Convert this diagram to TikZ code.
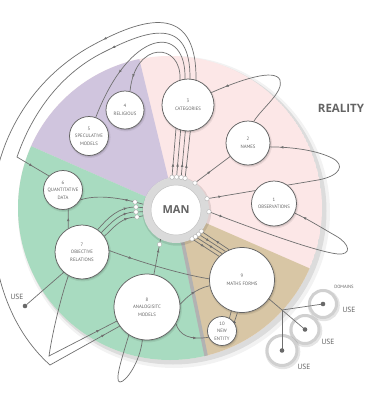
\documentclass[tikz,border=0pt]{standalone}
\usepackage{fontspec}
\usetikzlibrary{arrows.meta,decorations.markings,calc}
\newfontfamily\lblfont{PT Sans}
\newfontfamily\bigfont{Open Sans}
\definecolor{pinkc}{RGB}{252,231,231}
\definecolor{purplec}{RGB}{208,197,222}
\definecolor{greenc}{RGB}{168,219,192}
\definecolor{tanc}{RGB}{216,198,165}
\definecolor{stripc}{RGB}{178,178,178}
\definecolor{linec}{RGB}{112,112,112}
\definecolor{nodeb}{RGB}{100,100,100}
\definecolor{textc}{RGB}{100,100,100}
\definecolor{ringc}{RGB}{218,218,218}
\definecolor{domc}{RGB}{208,208,208}
\definecolor{dotc}{RGB}{105,105,105}
\pgfdeclarelayer{bg}
\pgfdeclarelayer{edges}
\pgfsetlayers{bg,edges,main}
\tikzset{
  con/.style={draw=linec, color=linec, line width=0.7pt},
  amark/.style={postaction={decorate,decoration={markings,mark=at position #1 with {\arrow{Latex[length=3.4pt,width=2.8pt]}}}}},
  rmark/.style={postaction={decorate,decoration={markings,mark=at position #1 with {\arrowreversed{Latex[length=3.4pt,width=2.8pt]}}}}},
  idea/.style={circle, draw=nodeb, fill=white, line width=0.75pt, inner sep=0pt, align=center, text=textc,
    font=\lblfont\fontsize{4.8}{7.6}\selectfont,
    preaction={fill=black, draw=black, fill opacity=0.10, draw opacity=0.07, line width=2.5pt,
      transform canvas={shift={(0.8pt,-1.2pt)}}}},
  mannode/.style={circle, minimum size=58pt, inner sep=0pt, fill=white, draw=ringc, line width=8pt, text=textc,
    font=\bigfont\bfseries\fontsize{11}{13}\selectfont,
    preaction={draw=black, draw opacity=0.10, line width=11pt, transform canvas={shift={(0.8pt,-1.2pt)}}}},
  domnode/.style={circle, inner sep=0pt, fill=white, draw=domc, line width=3pt,
    preaction={draw=black, draw opacity=0.10, line width=5pt, transform canvas={shift={(0.8pt,-1.2pt)}}}},
  port/.style={circle, draw=gray!60, fill=white, line width=0.4pt, inner sep=0pt, minimum size=4.4pt},
  dotn/.style={circle, fill=dotc, inner sep=0pt, minimum size=4.6pt},
  uselbl/.style={font=\lblfont\fontsize{7.5}{9}\selectfont, text=textc, inner sep=0pt},
  domlbl/.style={font=\lblfont\fontsize{4.6}{6}\selectfont, text=textc, inner sep=0pt}
}
\begin{document}
\begin{tikzpicture}[x=1pt,y=-1pt]
\useasboundingbox (0,0) rectangle (367,400);
\begin{pgfonlayer}{bg}
  \fill[white] (0,0) rectangle (367,400);
  \fill[black, opacity=0.05] (174,212) circle[radius=156];
  \fill[black, opacity=0.09] (173,211) circle[radius=153.5];
  \begin{scope}
    \clip (170,208) circle[radius=152];
    \fill[pinkc] (170,208) circle[radius=152];
    \fill[purplec] (176,210) -- (104,-86) -- (-110,84) -- cycle;
    \fill[greenc] (176,210) -- (-110,84) -- (-110,510) -- (238,510) -- cycle;
    \fill[tanc] (176,210) -- (238,510) -- (460,510) -- (460,334) -- cycle;
    \draw[stripc, line width=3.5pt] (176,210) -- (238,510);
  \end{scope}
\end{pgfonlayer}

% main nodes
\node[mannode] (man) at (176,210) {MAN};
\draw[gray!45, line width=0.5pt] (man.center) circle[radius=25];
\node[idea, minimum size=45pt] (obs) at (274,203.5) {1\\OBSERVATIONS};
\node[idea, minimum size=44pt] (names) at (248,143) {2\\NAMES};
\node[idea, minimum size=52pt] (cat) at (188,105) {3\\CATEGORIES};
\node[idea, minimum size=38pt] (rel) at (125,110) {4\\RELIGIOUS};
\node[idea, minimum size=39pt] (spec) at (89,136) {5\\SPECULATIVE\\MODELS};
\node[idea, minimum size=39pt] (qd) at (63,190) {6\\QUANTITATIVE\\DATA};
\node[idea, minimum size=54pt] (objrel) at (82,252) {7\\OBJECTIVE\\RELATIONS};
\node[idea, minimum size=66pt] (anal) at (147,307) {8\\ANALOGISITC\\MODELS};
\node[idea, minimum size=65pt] (mf) at (242,280) {9\\MATHS FORMS};
\node[idea, minimum size=29pt] (ne) at (222,331) {10\\NEW\\ENTITY};

\coordinate (pl1) at (135,202);
\coordinate (pl2) at (136,207);
\coordinate (pl3) at (136,212);
\coordinate (pl4) at (137,217);
\coordinate (pb) at ($(anal.78)!0.85!(man.242)$);
\coordinate (jn) at (282,310);

\begin{pgfonlayer}{edges}
  % domain circles
  \node[domnode, minimum size=27pt] (dom1) at (323,304) {};
  \node[domnode, minimum size=28pt] (dom2) at (305,329.5) {};
  \node[domnode, minimum size=30pt] (dom3) at (282,350.5) {};

  % four lines from the top of MAN
  \draw[con, amark=14pt, amark=-14pt] (man.97) -- (180,80) .. controls (182,42) and (135,40) .. (rel.75);
  \draw[con, amark=14pt, amark=-50pt] (man.89) -- (185,80) .. controls (187,22) and (130,28) .. (spec.70);
  \draw[con, amark=14pt, amark=212pt, amark=-19pt] (man.81) -- (190,80) .. controls (191,14) and (146.6,30.3) .. (102,53)
     .. controls (60.5,74.2) and (32.2,112.9) .. (17,157) -- (qd.135);
  \draw[con, amark=14pt, amark=235pt, amark=-17pt] (man.74) -- (196,80) .. controls (197,0) and (141,19) .. (93,45)
     .. controls (30.6,78.7) and (-8,144) .. (-8,215) .. controls (-8,271) and (8.5,327.7) .. (50,365) -- (anal.215);

  % names -> categories loop
  \draw[con, amark=-15pt] (names.75) .. controls (262,108) and (284,92) .. (280,80) .. controls (275,68) and (240,80) .. (cat.28);
  % man -> loop -> names
  \draw[con, amark=15pt, amark=-10pt] (man.20) -- (318,180) .. controls (340,176) and (346,165) .. (332,158)
     .. controls (318,151) and (295,147) .. (names.-10);
  % man -> names
  \draw[con, amark=0.45] (man.55) -- (names.217);
  % man -> loop -> observations
  \draw[con, amark=15pt, amark=-9pt] (man.-3) .. controls (262,232) and (318,252) .. (338,254)
     .. controls (352,255) and (350,244) .. (336,236) .. controls (322,228) and (306,218) .. (obs.-25);

  % left side
  \draw[con, amark=20pt] (man.170) -- (pl1) .. controls (115,197) and (95,195) .. (qd.-30);
  \draw[con, rmark=16pt] (man.176) -- (pl2) .. controls (118,207) and (108,218) .. (objrel.55);
  \draw[con, rmark=16pt] (man.183) -- (pl3) .. controls (120,212) and (112,222) .. (objrel.45);
  \draw[con, rmark=16pt] (man.190) -- (pl4) .. controls (122,217) and (115,226) .. (objrel.35);
  \draw[con, amark=0.55] (objrel.120) -- (qd.-75);
  \draw[con, amark=24pt] (objrel.3) .. controls (140,262) and (180,274) .. (mf.178);
  \node[dotn] (usedot) at (25,306) {};
  \draw[con] (objrel.228) -- (usedot);
  \draw[con, amark=-19pt] (objrel.240) .. controls (60,300) and (52,335) .. (49,356) -- (anal.205);

  % analogisitc models
  \draw[con, amark=0.72] (anal.78) -- (man.242);
  \draw[con, amark=0.55] (anal.5) .. controls (186,298) and (195,289) .. (mf.190);
  \draw[con, amark=-12pt] (anal.-30) .. controls (180,336) and (190,340) .. (ne.205);
  \draw[con] (anal.237) .. controls (122,358) and (114,382) .. (120,382) .. controls (126,382) and (140,362) .. (anal.262);

  % maths forms
  \draw[con, amark=0.45] (man.-61) -- (mf.134);
  \draw[con, rmark=0.5] (man.-54) -- (mf.127);
  \draw[con, amark=0.4] (man.-47) -- (mf.120);
  \draw[con, rmark=0.52] (man.-40) -- (mf.113);
  \draw[con] (mf.251) -- (ne.60);
  \draw[con] (mf.262) -- (ne.35);
  \node[dotn, minimum size=3.4pt] (nedot) at (ne.35) {};
  \draw[con] (mf.-35) -- (jn);
  \draw[con] (jn) -- (dom1.center);
  \draw[con] (jn) -- (dom2.center);
  \draw[con] (jn) -- (dom3.center);
  \node[dotn] (d1dot) at (dom1.center) {};
  \node[dotn] (d2dot) at (dom2.center) {};
  \node[dotn] (d3dot) at (dom3.center) {};
\end{pgfonlayer}

% ports on MAN
\foreach \a [count=\i] in {97,89,81,74,55,20,-3,-40,-47,-54,-61}
  \node[port] (pm\i) at (man.\a) {};
\foreach \c [count=\i] in {pl1,pl2,pl3,pl4,pb}
  \node[port] (pq\i) at (\c) {};

% labels
\node[font=\bigfont\bfseries\fontsize{11.5}{13}\selectfont, text=textc] (reality) at (341,108) {REALITY};
\node[uselbl] (use0) at (17,297) {USE};
\node[domlbl] (domlabel) at (344,287) {DOMAINS};
\node[uselbl] (use1) at (349,310) {USE};
\node[uselbl] (use2) at (328,342) {USE};
\node[uselbl] (use3) at (304,367) {USE};
\end{tikzpicture}
\end{document}
